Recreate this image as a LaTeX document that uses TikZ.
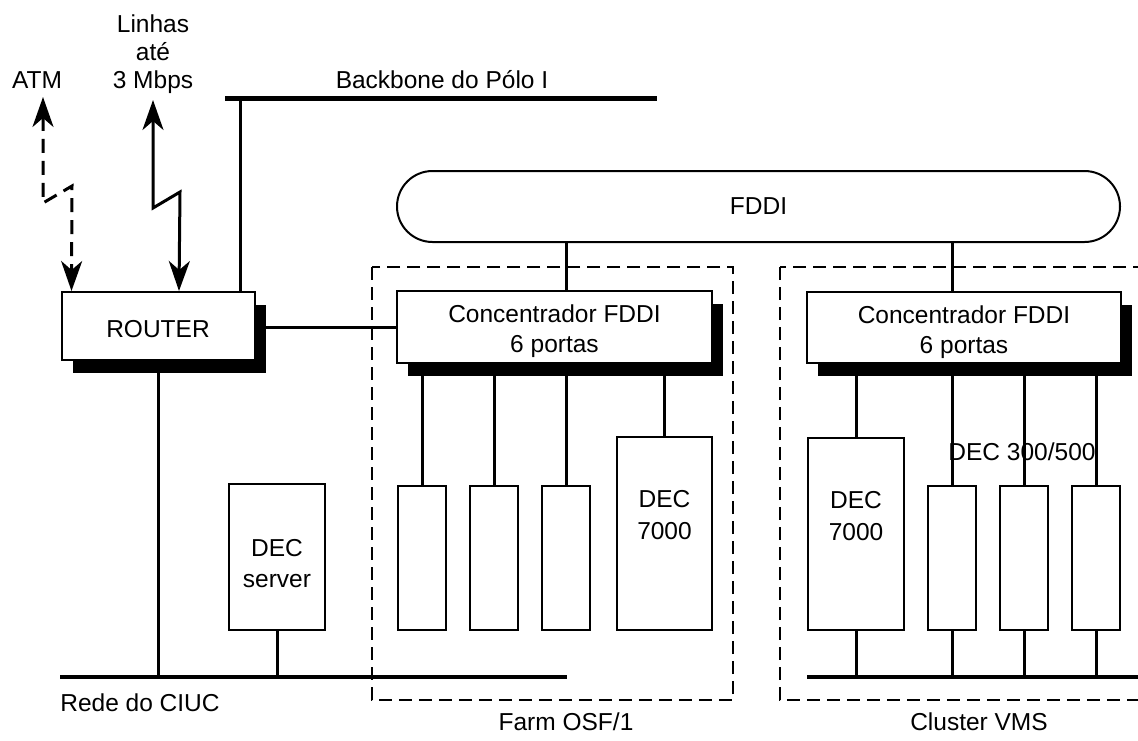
\documentclass[tikz,border=0pt]{standalone}
\usepackage{fontspec}
\setmainfont{Liberation Sans}
\usetikzlibrary{shadows,arrows.meta}
\begin{document}
\begin{tikzpicture}[x=1pt,y=-1pt,
  every node/.style={font=\fontsize{24.5}{30}\selectfont, inner sep=0pt},
  box/.style={draw, line width=2pt, fill=white, align=center},
  shbox/.style={box, drop shadow={shadow xshift=11pt, shadow yshift=-13pt, opacity=1, fill=black}},
  conn/.style={line width=3pt},
  rede/.style={line width=4pt},
  bbline/.style={line width=5pt},
  grp/.style={line width=2.5pt, dash pattern=on 13pt off 7pt},
  dashconn/.style={conn, dash pattern=on 14pt off 8pt},
  >={Stealth[length=30pt,width=21pt,inset=9pt]},
  boxtext/.style={align=center, anchor=north, font=\fontsize{24.5}{32}\selectfont}
]
\useasboundingbox (0,0) rectangle (1138,740);
\clip (0,0) rectangle (1138,740);

% groups
\draw[grp] (372,267) rectangle (733,700);
\draw[grp] (780,267) rectangle (1150,700);

% backbone
\coordinate (bbL) at (225,98);
\coordinate (bbR) at (657,98);
\coordinate (bbT) at (240,98);
\draw[bbline] (bbL) -- (bbR);
\node (bblabel) at (442,80) {Backbone do Pólo I};

% router
\node[shbox, minimum width=193pt, minimum height=68pt,
  label={[boxtext, yshift=-29pt]north:ROUTER}] (router) at (158,326) {};
\draw[conn] (bbT) -- (bbT |- router.north);

% external links
\node (atm) at (37,80) {ATM};
\node[align=center, font=\fontsize{24.5}{28}\selectfont] (lin) at (153,54) {Linhas\\até\\3 Mbps};
\coordinate (atmT) at (43,97);
\coordinate (linT) at (153,100);
\draw[dashconn, <->] (atmT) -- (43,203) -- (72,186) -- ([xshift=11pt]router.north west);
\draw[conn, <->] (linT) -- (153,208) -- (180,192) -- ([xshift=118.5pt]router.north west);

% FDDI ring
\node[draw, line width=2pt, rounded corners=35.5pt, minimum width=723pt, minimum height=71pt] (fddi) at (758.5,206.5) {FDDI};

% concentrators
\node[shbox, minimum width=315pt, minimum height=72pt,
  label={[boxtext, font=\fontsize{24.5}{30}\selectfont, yshift=-14.5pt]north:{Concentrador FDDI\\6 portas}}] (conc1) at (554.5,327) {};
\node[shbox, minimum width=314pt, minimum height=71pt,
  label={[boxtext, font=\fontsize{24.5}{30}\selectfont, yshift=-14.5pt]north:{Concentrador FDDI\\6 portas}}] (conc2) at (964,327.5) {};
\draw[conn] (conc1.west -| router.east) -- (conc1.west);

% DEC server
\node[box, minimum width=96pt, minimum height=146pt,
  label={[boxtext, font=\fontsize{24.5}{31}\selectfont, yshift=-56pt]north:{DEC\\server}}] (srv) at (277,557) {};

% farm machines
\node[box, minimum width=48pt, minimum height=144pt] (f1) at (422,558) {};
\node[box, minimum width=48pt, minimum height=144pt] (f2) at (494,558) {};
\node[box, minimum width=48pt, minimum height=144pt] (f3) at (566,558) {};
\node[box, minimum width=95pt, minimum height=193pt,
  label={[boxtext, yshift=-54pt]north:{DEC\\7000}}] (f4) at (664.5,533.5) {};

% cluster machines
\node (declabel) at (1022,452) {DEC 300/500};
\node[box, minimum width=96pt, minimum height=192pt,
  label={[boxtext, yshift=-54pt]north:{DEC\\7000}}] (c4) at (856,534) {};
\node[box, minimum width=48pt, minimum height=144pt] (c1) at (952,558) {};
\node[box, minimum width=48pt, minimum height=144pt] (c2) at (1024,558) {};
\node[box, minimum width=48pt, minimum height=144pt] (c3) at (1096,558) {};

% FDDI drops
\draw[conn] (f3.north |- fddi.south) -- (f3.north |- conc1.north);
\draw[conn] (c1.north |- fddi.south) -- (c1.north |- conc2.north);

% concentrator ports
\foreach \b in {f1,f2,f3,f4} \draw[conn] (\b.north) -- (\b.north |- conc1.south);
\foreach \b in {c4,c1,c2,c3} \draw[conn] (\b.north) -- (\b.north |- conc2.south);

% LAN buses
\coordinate (rL) at (60,677);
\coordinate (rR) at (567,677);
\coordinate (cL) at (807,677);
\coordinate (cR) at (1140,677);
\draw[rede] (rL) -- (rR);
\draw[rede] (cL) -- (cR);
\draw[conn] (router.south) -- (router.south |- rL);
\draw[conn] (srv.south) -- (srv.south |- rL);
\foreach \b in {c4,c1,c2,c3} \draw[conn] (\b.south) -- (\b.south |- cL);

% labels
\node (redelabel) at (140,703) {Rede do CIUC};
\node (farmlabel) at (566,722) {Farm OSF/1};
\node (clusterlabel) at (979,722) {Cluster VMS};
\end{tikzpicture}
\end{document}
